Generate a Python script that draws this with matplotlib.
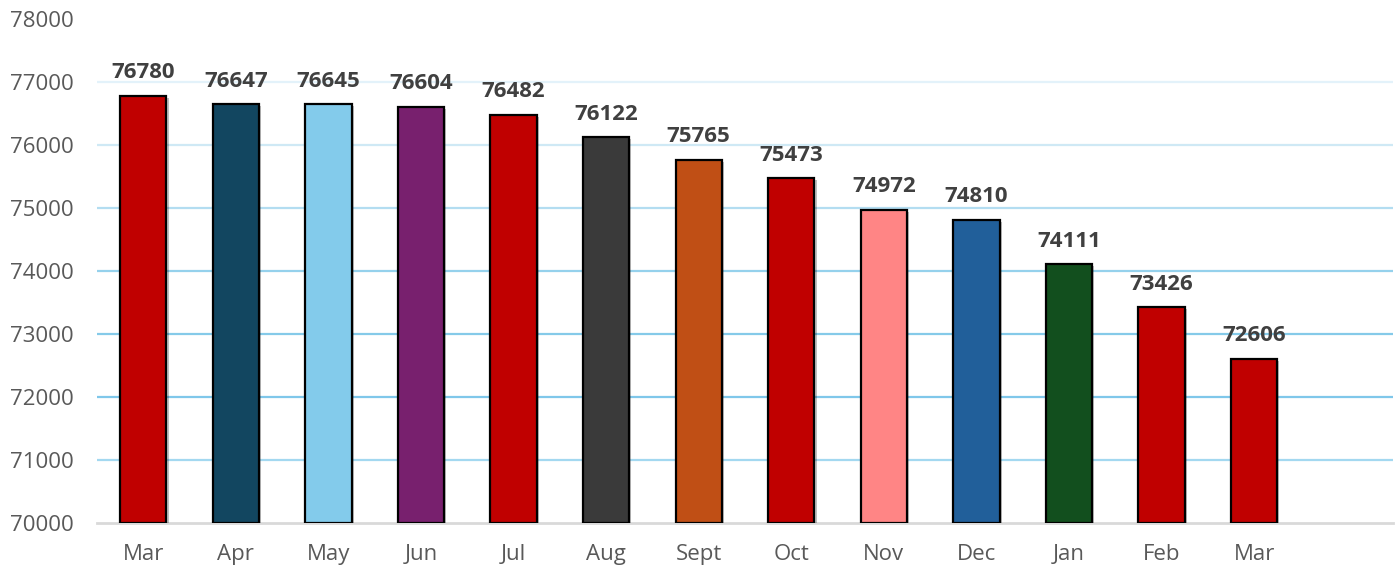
import matplotlib
matplotlib.use("Agg")
import matplotlib.pyplot as plt
import matplotlib.patheffects as pe

months = ["Mar", "Apr", "May", "Jun", "Jul", "Aug", "Sept", "Oct", "Nov", "Dec", "Jan", "Feb", "Mar"]
values = [76780, 76647, 76645, 76604, 76482, 76122, 75765, 75473, 74972, 74810, 74111, 73426, 72606]
bar_colors = ["#C00000", "#124660", "#83CBEB", "#78206E", "#C00000", "#3A3A3A", "#C04F15",
              "#C00000", "#FF8585", "#215F9A", "#124F1E", "#C00000", "#C00000"]
y_ticks = [70000, 71000, 72000, 73000, 74000, 75000, 76000, 77000, 78000]

plt.rcParams['font.family'] = ['Open Sans', 'DejaVu Sans']

fig = plt.figure(figsize=(13.99, 5.65), dpi=100)
ax = fig.add_axes([97/1399, 42/565, (1393-97)/1399, (523-19)/565])

x = list(range(len(values)))
bars = ax.bar(x, [v - y_ticks[0] for v in values], bottom=y_ticks[0], width=0.5,
              color=bar_colors, edgecolor="black", linewidth=1.6, zorder=3)
for b in bars:
    b.set_path_effects([pe.SimplePatchShadow(offset=(1.5, -1.5), shadow_rgbFace="black", alpha=0.25),
                        pe.Normal()])

for xi, v in zip(x, values):
    ax.annotate(f"{v}", (xi, v), xytext=(0, 9), textcoords="offset points",
                ha="center", va="bottom", fontsize=16, fontweight="bold", color="#404040")

ax.set_xlim(-0.5, 13.5)
ax.set_ylim(y_ticks[0], y_ticks[-1])
ax.set_yticks(y_ticks)
ax.set_xticks(x)
ax.set_xticklabels(months)

grid_colors = {71000: "#a3d8f0", 72000: "#7fc7ea", 73000: "#85cae9", 74000: "#95d1ec",
               75000: "#b3ddf1", 76000: "#cfe9f5", 77000: "#e3f2fa"}
for yv, c in grid_colors.items():
    ax.axhline(yv, color=c, linewidth=1.6, zorder=1)

for s in ["top", "right", "left"]:
    ax.spines[s].set_visible(False)
ax.spines["bottom"].set_color("#d9d9d9")
ax.spines["bottom"].set_linewidth(2)
ax.spines["bottom"].set_zorder(2)

ax.tick_params(axis="both", length=0, labelsize=16, labelcolor="#595959")
ax.tick_params(axis="y", pad=17)
ax.tick_params(axis="x", pad=15)

fig.savefig("out.png", dpi=100)
